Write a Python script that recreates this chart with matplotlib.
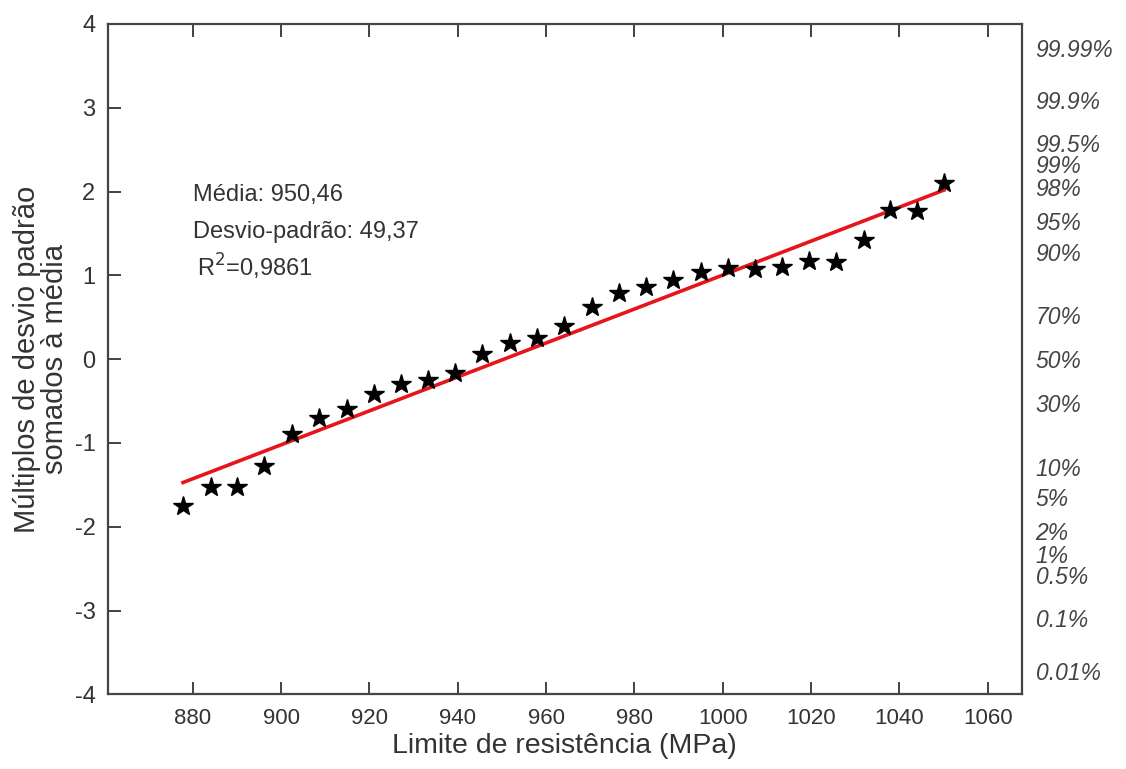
import matplotlib
matplotlib.use('Agg')
import matplotlib.pyplot as plt
from statistics import NormalDist

# dados
resistencia = [877.8, 884.1, 890.0, 896.1, 902.5, 908.6, 914.9, 921.0, 927.2, 933.3,
               939.4, 945.5, 951.9, 958.0, 964.1, 970.3, 976.6, 982.7, 988.8, 995.0,
               1001.1, 1007.4, 1013.5, 1019.6, 1025.7, 1032.0, 1037.9, 1044.0, 1050.1]
multiplos = [-1.75, -1.53, -1.53, -1.27, -0.89, -0.70, -0.59, -0.42, -0.30, -0.25,
             -0.16, 0.06, 0.19, 0.25, 0.40, 0.62, 0.79, 0.86, 0.95, 1.04,
             1.09, 1.08, 1.10, 1.17, 1.16, 1.42, 1.78, 1.77, 2.10]
media = 950.46
desvio = 49.37
r2 = 0.9861

probabilidades = [0.9999, 0.999, 0.995, 0.99, 0.98, 0.95, 0.90, 0.70, 0.50, 0.30,
                  0.10, 0.05, 0.02, 0.01, 0.005, 0.001, 0.0001]
rotulos_prob = ['99.99%', '99.9%', '99.5%', '99%', '98%', '95%', '90%', '70%', '50%', '30%',
                '10%', '5%', '2%', '1%', '0.5%', '0.1%', '0.01%']

plt.rcParams['font.family'] = ['Liberation Sans', 'DejaVu Sans']
plt.rcParams['axes.unicode_minus'] = False
cinza = '#333333'

fig = plt.figure(figsize=(11.26, 7.69), dpi=100)
ax = fig.add_axes([0.0959, 0.0971, 0.8115, 0.8717])

# reta teórica: z = (x - média) / desvio
x_reta = [min(resistencia), max(resistencia)]
z_reta = [(v - media) / desvio for v in x_reta]
ax.plot(x_reta, z_reta, color='#e8141c', lw=2.6, zorder=2)
ax.plot(resistencia, multiplos, ls='none', marker='*', ms=15, color='black', zorder=3)

ax.set_xlim(860.8, 1067.7)
ax.set_ylim(-4, 4)
ax.set_xticks(range(880, 1061, 20))
ax.set_yticks(range(-4, 5))
ax.tick_params(direction='in', top=True, right=True, length=9, width=1.3,
               color='#333333', labelcolor=cinza)
ax.tick_params(axis='x', labelsize=16, pad=10)
ax.tick_params(axis='y', labelsize=17, pad=9)
for s in ax.spines.values():
    s.set_color('#444444')
    s.set_linewidth(1.6)

ax.set_xlabel('Limite de resistência (MPa)', fontsize=20.5, color=cinza, labelpad=3)
ax.set_ylabel('Múltiplos de desvio padrão\nsomados à média', fontsize=21, color=cinza,
              labelpad=4, linespacing=1.0)

fig.text(193 / 1126, 1 - 195 / 769, f'Média: {media:.2f}'.replace('.', ','),
         fontsize=17, color=cinza, va='center')
fig.text(193 / 1126, 1 - 232 / 769, f'Desvio-padrão: {desvio:.2f}'.replace('.', ','),
         fontsize=17, color=cinza, va='center')
fig.text(197 / 1126, 1 - 267 / 769, 'R$^2$=' + f'{r2:.4f}'.replace('.', ','),
         fontsize=17, color=cinza, va='center')

# escala de probabilidade à direita
ax2 = ax.twinx()
ax2.set_ylim(-4, 4)
ax2.set_yticks([NormalDist().inv_cdf(p) for p in probabilidades])
ax2.set_yticklabels(rotulos_prob, fontstyle='italic', fontsize=16.5, color='#444444')
ax2.tick_params(axis='y', length=0, pad=10)
for s in ax2.spines.values():
    s.set_visible(False)

fig.savefig('out.png', dpi=100)
